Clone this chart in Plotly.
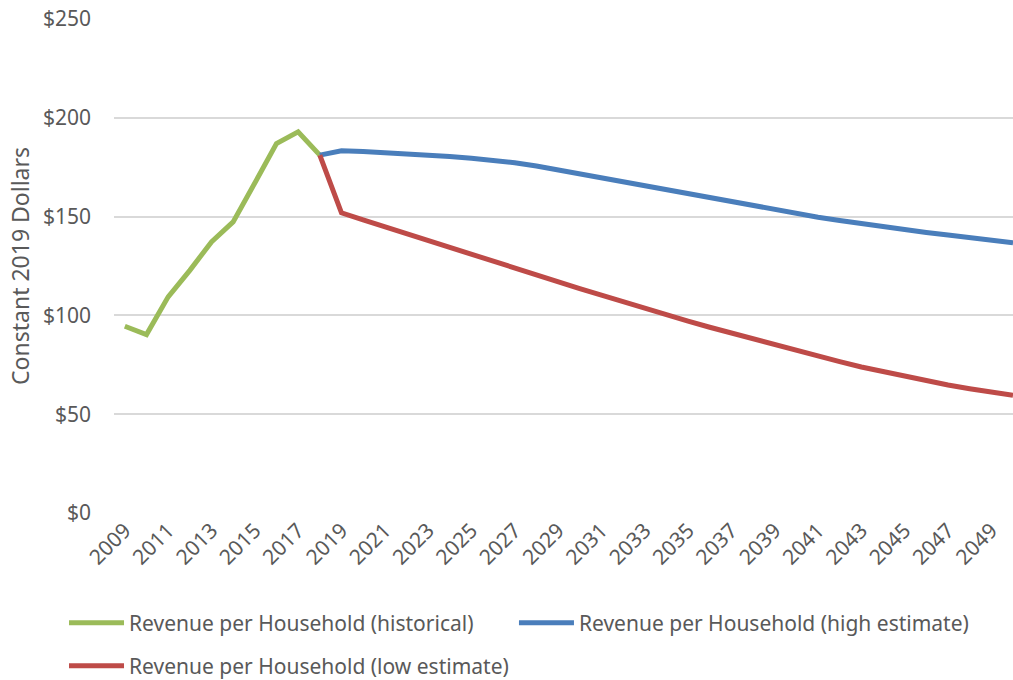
import plotly.graph_objects as go

hist_years = list(range(2009, 2019))
hist_values = [94.5, 90.3, 109.4, 122.8, 137.2, 147.3, 167.0, 187.0, 192.9, 181.1]

proj_years = list(range(2018, 2051))
high_values = [181.1, 183.3, 183.0, 182.5, 181.9, 181.2, 180.4, 179.5, 178.5, 177.3,
               175.6, 173.6, 171.6, 169.6, 167.6, 165.6, 163.6, 161.5, 159.4, 157.3,
               155.3, 153.4, 151.5, 149.7, 148.0, 146.4, 144.9, 143.4, 142.0, 140.7,
               139.4, 138.0, 136.7]
low_values = [181.1, 151.9, 148.3, 144.8, 141.2, 137.7, 134.1, 130.6, 127.0, 123.6,
              120.3, 116.9, 113.6, 110.3, 106.9, 103.6, 100.3, 97.1, 94.0, 91.0,
              88.0, 85.1, 82.2, 79.4, 76.6, 73.9, 71.5, 69.1, 66.8, 64.8,
              62.9, 61.2, 59.6]

tick_years = list(range(2009, 2050, 2))
y_ticks = [0, 50, 100, 150, 200, 250]
y_tick_labels = ["$0", "$50", "$100", "$150", "$200", "$250"]

series_names = ["Revenue per Household (historical)",
                "Revenue per Household (high estimate)",
                "Revenue per Household (low estimate)"]
colors = ["#9BBB59", "#4A7EBB", "#BE4B48"]

FONT = "Noto Sans"
GRAY = "#595959"

fig = go.Figure()
fig.add_trace(go.Scatter(x=hist_years, y=hist_values, mode="lines", name=series_names[0],
                         line=dict(color=colors[0], width=5), legend="legend"))
fig.add_trace(go.Scatter(x=proj_years, y=high_values, mode="lines", name=series_names[1],
                         line=dict(color=colors[1], width=5), legend="legend2"))
fig.add_trace(go.Scatter(x=proj_years, y=low_values, mode="lines", name=series_names[2],
                         line=dict(color=colors[2], width=5), legend="legend3"))

legend_common = dict(orientation="h", xanchor="left", yanchor="middle", itemwidth=55,
                     font=dict(family=FONT, size=21, color=GRAY),
                     bgcolor="rgba(0,0,0,0)")

fig.update_layout(
    width=1013, height=680,
    margin=dict(l=114, r=0, t=19, b=167, autoexpand=False),
    plot_bgcolor="white", paper_bgcolor="white",
    font=dict(family=FONT, size=21, color=GRAY),
    xaxis=dict(range=[2008.5, 2050.0], tickmode="array", tickvals=tick_years,
               ticktext=[str(y) for y in tick_years], tickangle=-45,
               showgrid=False, zeroline=False, showline=False, automargin=False,
               tickfont=dict(family=FONT, size=21, color=GRAY)),
    yaxis=dict(range=[0, 250], tickmode="array", tickvals=y_ticks, ticktext=y_tick_labels,
               showgrid=True, gridcolor="#D9D9D9", gridwidth=1.5, zeroline=False,
               showline=False, ticklabelstandoff=22, automargin=False,
               tickfont=dict(family=FONT, size=21, color=GRAY)),
    legend=dict(x=-0.0556, y=-0.2227, **legend_common),
    legend2=dict(x=0.4449, y=-0.2227, **legend_common),
    legend3=dict(x=-0.0556, y=-0.3098, **legend_common),
    annotations=[dict(text="Constant 2019 Dollars", textangle=-90, xref="paper", yref="paper",
                      x=-0.1046, y=0.5, xanchor="center", yanchor="middle", showarrow=False,
                      font=dict(family=FONT, size=23, color=GRAY))],
    showlegend=True,
)

fig.write_html(
    "out.html",
    config={"responsive": False, "displayModeBar": False},
    post_script="document.body.style.margin='0';document.body.style.overflow='hidden';",
)
